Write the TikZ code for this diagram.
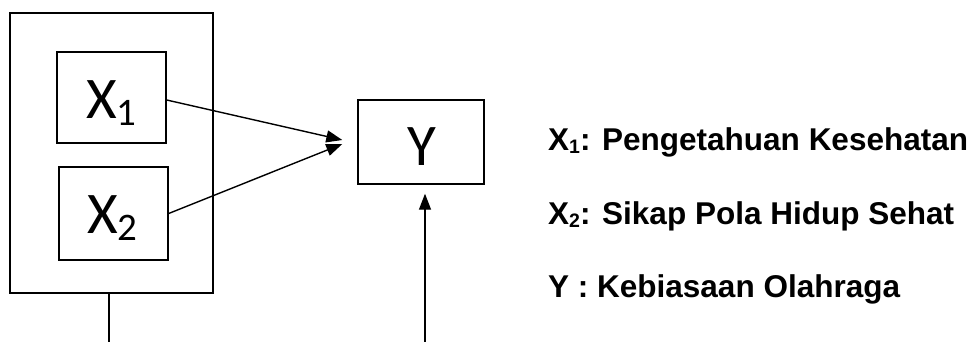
\documentclass[tikz,border=0pt]{standalone}
\usepackage{fontspec}
\setmainfont{Liberation Sans}
\newfontfamily\boxfont{Carlito}
\usetikzlibrary{arrows.meta}

\begin{document}
\begin{tikzpicture}[x=1pt,y=-1pt,
  box/.style={draw, line width=1.4pt, inner sep=0pt, rectangle},
  link/.style={line width=1.4pt, -{Triangle[length=16pt,width=12pt]}},
  plain/.style={line width=1.4pt},
  boxlabel/.style={anchor=base west, inner sep=0pt, font=\boxfont\fontsize{59}{59}\selectfont},
  legend/.style={anchor=base west, inner sep=0pt, font=\bfseries\fontsize{31.5}{31.5}\selectfont}]
\useasboundingbox (0,0) rectangle (977,342);

% boxes
\node[box, minimum width=203pt, minimum height=280pt] (outer) at (111.5,153) {};
\node[box, minimum width=109pt, minimum height=91pt] (x1) at (111.5,97.5) {};
\node[box, minimum width=109pt, minimum height=93pt] (x2) at (113.5,213.5) {};
\node[box, minimum width=126pt, minimum height=84pt] (y) at (421,142) {};

% box labels
\node[boxlabel] (x1lab) at (86,118.5) {X\raisebox{-7pt}{\fontsize{39}{39}\selectfont 1}};
\node[boxlabel] (x2lab) at (87,233.5) {X\raisebox{-7pt}{\fontsize{39}{39}\selectfont 2}};
\node[boxlabel, anchor=base] (ylab) at (421.5,165) {Y};

% connectors
\draw[link] ([yshift=-2.5pt]x1.east) -- ([xshift=-15pt,yshift=2pt]y.west);
\draw[link] (x2.east) -- ([xshift=-15pt,yshift=-2pt]y.west);
\coordinate (yin) at (425,342);
\draw[link, shorten >=9pt] (yin) -- (yin |- y.south);
\coordinate (obot) at (109,342);
\draw[plain] (outer.south -| obot) -- (obot);

% legend
\node[legend] (l1) at (548,150) {X\raisebox{-3pt}{\fontsize{19.5}{19.5}\selectfont 1}: Pengetahuan Kesehatan};
\node[legend] (l2) at (548,224) {X\raisebox{-3pt}{\fontsize{19.5}{19.5}\selectfont 2}: Sikap Pola Hidup Sehat};
\node[legend] (l3) at (548,297) {Y : Kebiasaan Olahraga};
\end{tikzpicture}
\end{document}
